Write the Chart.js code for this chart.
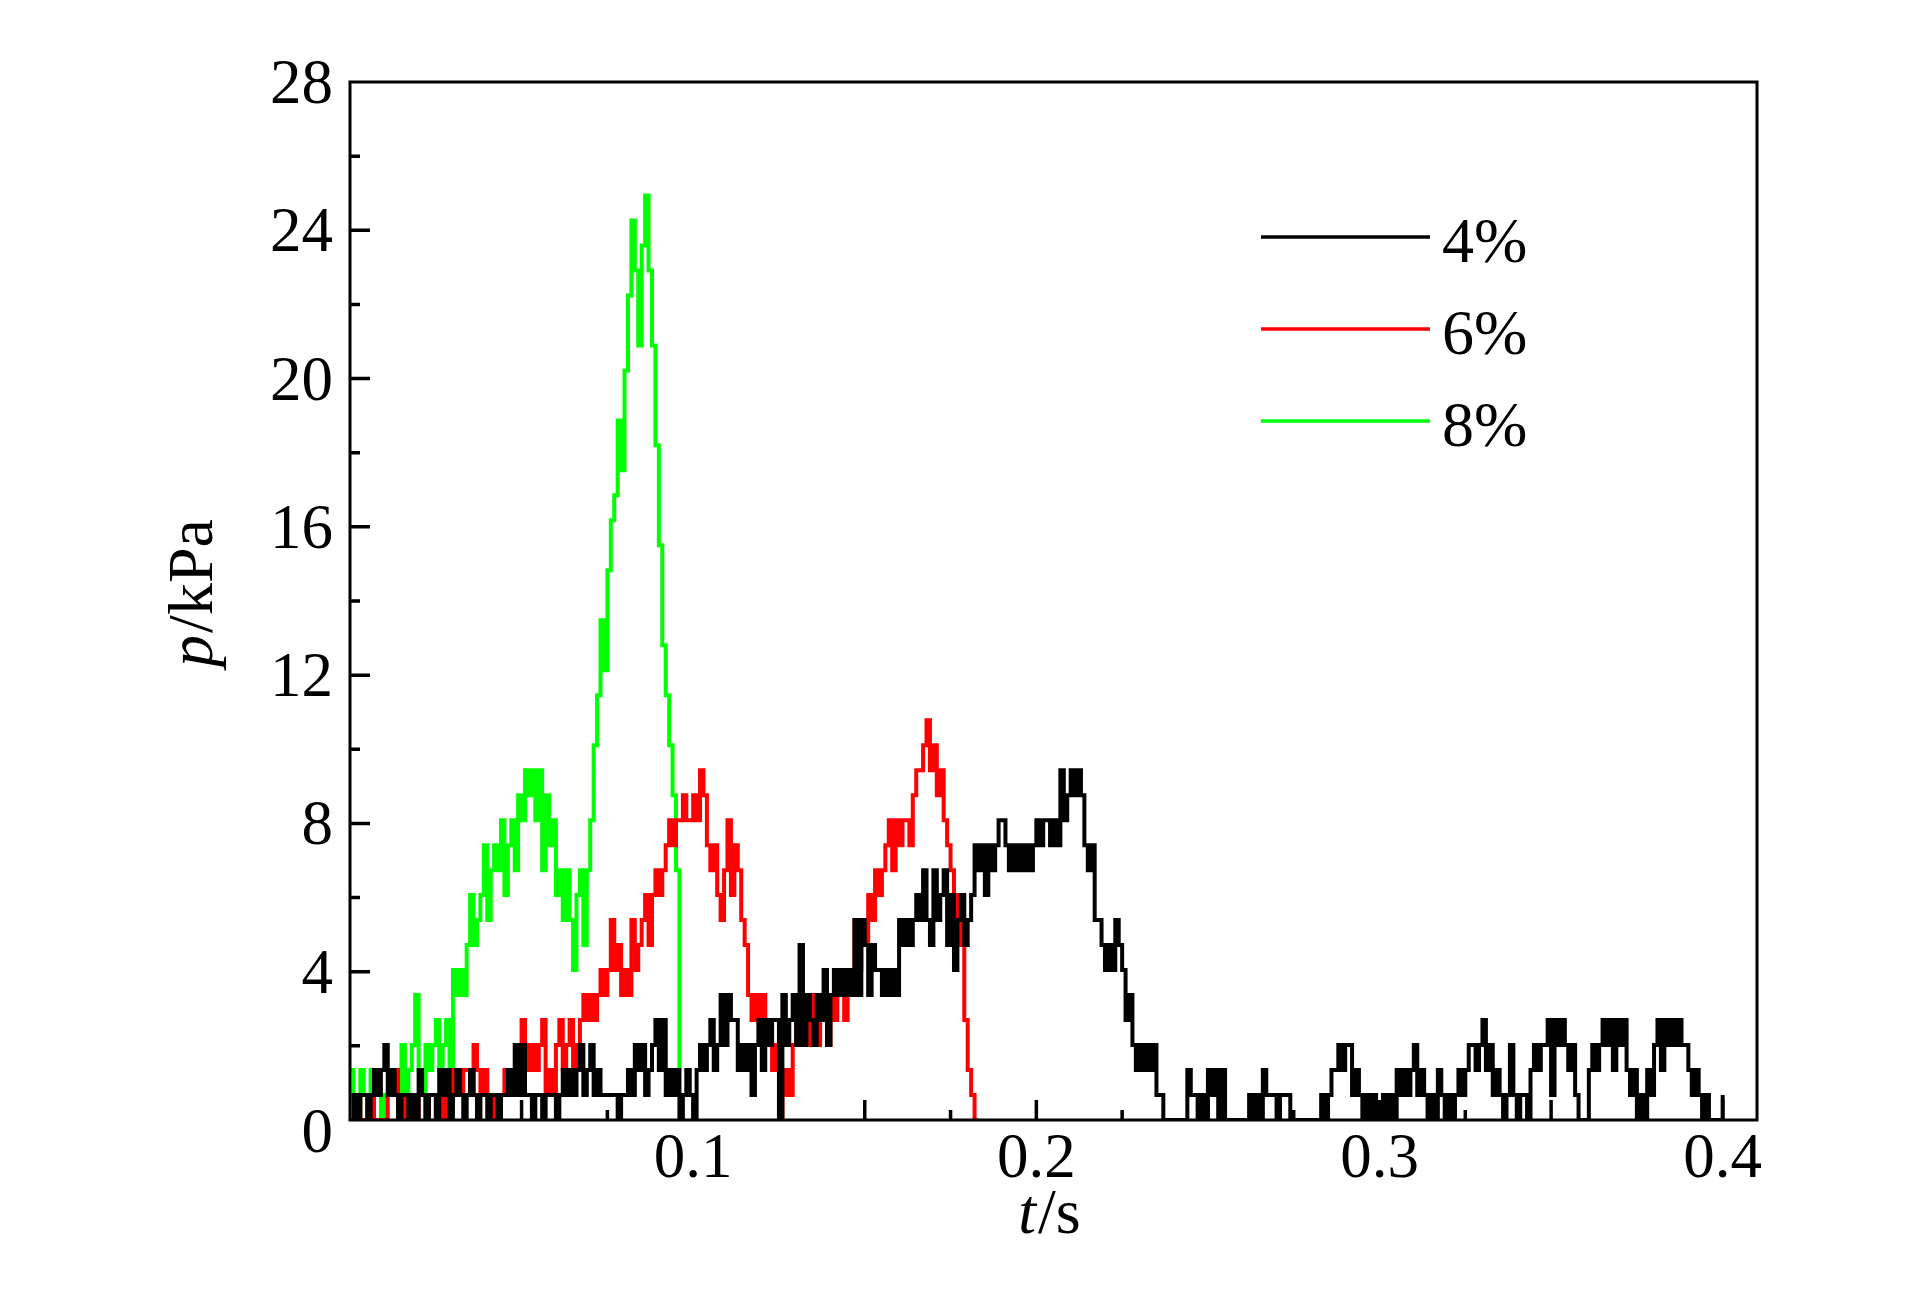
<!DOCTYPE html>
<html>
<head>
<meta charset="utf-8">
<script src="https://cdn.jsdelivr.net/npm/chart.js@4/dist/chart.umd.min.js"></script>
<style>
html, body { margin: 0; padding: 0; background: #fff; }
#wrap { width: 1923px; height: 1299px; }
</style>
</head>
<body>
<div id="wrap"><canvas id="c" width="1923" height="1299"></canvas></div>
<script>
// record sampled every DT seconds, pressure quantised in steps of STEP_KPA
const DT = 0.001
const STEP_KPA = 0.674

const seriesNames = ['4%', '6%', '8%']
const seriesColors = ['#000000', '#ff0000', '#00ff00']

// pressure in ADC steps, one value per DT
const steps4 = [
    0, 1, 0, 1, 1, 0, 1, 2, 1, 2,
    3, 1, 2, 1, 0, 1, 1, 0, 1, 0,
    2, 1, 0, 1, 1, 0, 2, 1, 2, 0,
    1, 2, 1, 0, 1, 2, 1, 0, 1, 1,
    0, 1, 1, 0, 1, 1, 2, 1, 3, 1,
    3, 1, 1, 0, 1, 1, 0, 1, 1, 1,
    0, 1, 2, 1, 2, 1, 2, 3, 1, 2,
    3, 1, 2, 1, 1, 1, 1, 1, 0, 1,
    1, 2, 1, 3, 2, 3, 1, 2, 3, 4,
    2, 4, 1, 2, 1, 2, 0, 1, 2, 1,
    0, 2, 3, 2, 3, 4, 2, 3, 5, 3,
    5, 4, 4, 2, 3, 2, 3, 1, 3, 4,
    2, 4, 3, 4, 4, 0, 5, 3, 4, 5,
    3, 7, 3, 5, 4, 3, 5, 4, 6, 3,
    5, 6, 5, 6, 5, 6, 5, 8, 5, 8,
    7, 5, 7, 6, 6, 5, 6, 5, 6, 5,
    8, 7, 8, 7, 8, 9, 8, 10, 8, 7,
    10, 8, 9, 10, 7, 9, 6, 8, 9, 7,
    8, 9, 11, 10, 11, 9, 11, 10, 11, 12,
    12, 11, 10, 11, 10, 11, 10, 11, 10, 11,
    12, 11, 12, 12, 11, 12, 11, 14, 12, 13,
    14, 13, 14, 13, 11, 10, 11, 8, 8, 7,
    6, 7, 6, 8, 7, 6, 4, 5, 3, 2,
    3, 2, 3, 2, 3, 1, 1, 0, 0, 0,
    0, 0, 0, 0, 2, 1, 1, 0, 1, 0,
    2, 1, 2, 0, 2, 0, 0, 0, 0, 0,
    0, 0, 1, 0, 1, 0, 2, 1, 1, 1,
    0, 1, 1, 1, 0, 0, 0, 0, 0, 0,
    0, 0, 0, 1, 0, 1, 2, 2, 3, 2,
    3, 3, 1, 2, 1, 0, 1, 0, 1, 0,
    0, 1, 0, 1, 0, 2, 1, 2, 1, 2,
    3, 1, 2, 1, 0, 1, 0, 2, 1, 0,
    1, 0, 1, 2, 1, 2, 3, 3, 2, 3,
    4, 2, 3, 1, 2, 1, 0, 1, 3, 1,
    0, 1, 1, 0, 2, 3, 2, 3, 3, 4,
    1, 4, 3, 4, 3, 2, 3, 1, 0, 0,
    0, 2, 3, 2, 3, 4, 3, 4, 2, 4,
    3, 4, 2, 1, 2, 0, 1, 0, 2, 1,
    3, 4, 2, 4, 3, 4, 3, 4, 3, 3,
    2, 1, 2, 1, 0, 1, 0, 0, 0, 0,
    1
]

const steps6 = [
    0, 0, 1, 0, 0, 0, 1, 0, 0, 0,
    0, 1, 2, 2, 1, 0, 1, 0, 1, 0,
    1, 1, 0, 1, 1, 1, 1, 0, 1, 1,
    2, 2, 1, 2, 2, 1, 3, 2, 1, 2,
    1, 0, 1, 0, 1, 2, 1, 2, 2, 3,
    4, 3, 2, 3, 2, 3, 4, 1, 2, 1,
    3, 4, 2, 3, 4, 2, 3, 4, 5, 4,
    5, 4, 5, 6, 5, 6, 8, 6, 7, 5,
    6, 5, 8, 6, 7, 8, 9, 7, 9, 10,
    9, 10, 11, 12, 11, 12, 12, 13, 12, 12,
    13, 12, 14, 13, 11, 10, 11, 9, 8, 10,
    12, 9, 11, 10, 8, 7, 5, 4, 5, 4,
    5, 4, 3, 2, 3, 0, 1, 2, 1, 3,
    4, 3, 4, 3, 4, 5, 3, 4, 5, 3,
    5, 4, 5, 6, 4, 5, 6, 8, 6, 7,
    7, 9, 8, 10, 9, 10, 11, 12, 10, 12,
    11, 12, 12, 11, 13, 14, 14, 15, 16, 14,
    15, 13, 14, 12, 11, 10, 9, 8, 7, 4,
    2, 1, 0, 0
]

const steps8 = [
    2, 1, 0, 2, 1, 1, 2, 1, 1, 0,
    1, 1, 2, 2, 0, 3, 1, 2, 3, 5,
    2, 1, 3, 2, 3, 4, 2, 3, 4, 1,
    6, 5, 6, 5, 7, 9, 7, 8, 9, 11,
    8, 10, 11, 10, 12, 9, 11, 12, 10, 13,
    12, 14, 13, 14, 12, 14, 10, 13, 11, 12,
    9, 10, 8, 10, 8, 6, 9, 10, 7, 10,
    12, 15, 17, 20, 18, 22, 24, 25, 28, 26,
    30, 33, 36, 34, 31, 35, 37, 34, 31, 27,
    23, 19, 17, 15, 13, 10, 2
]

const yTickLabels = [0, 4, 8, 12, 16, 20, 24, 28]
const xTickLabels = [0.1, 0.2, 0.3, 0.4]

const FONT = '"Liberation Serif", "DejaVu Serif", serif'

const toPoints = (steps) => steps.map((n, i) => ({ x: i * DT, y: n * STEP_KPA }))

const axesPlugin = {
    id: 'axes',
    afterDatasetsDraw(chart) {
        const { ctx, chartArea: a, scales } = chart
        const xs = scales.x
        const ys = scales.y
        ctx.save()
        ctx.strokeStyle = '#000'
        ctx.lineCap = 'butt'

        // inward ticks: y every 2 (major every 4), x every 0.025 (major every 0.05)
        ctx.lineWidth = 3.5
        ctx.beginPath()
        for (let i = 1; i < 14; i++) {
            const py = ys.getPixelForValue(i * 2)
            const len = i % 2 === 0 ? 20 : 10
            ctx.moveTo(a.left, py)
            ctx.lineTo(a.left + len, py)
        }
        for (let i = 1; i <= 16; i++) {
            const px = xs.getPixelForValue(i * 0.025)
            const len = i % 2 === 0 ? 20 : 10
            ctx.moveTo(px, a.bottom)
            ctx.lineTo(px, a.bottom - len)
        }
        ctx.stroke()

        ctx.lineWidth = 3
        ctx.strokeRect(a.left, a.top, a.right - a.left, a.bottom - a.top)
        ctx.restore()
    },
    afterDraw(chart) {
        const { ctx, chartArea: a, scales } = chart
        const xs = scales.x
        const ys = scales.y
        ctx.save()
        ctx.fillStyle = '#000'
        ctx.font = '63px ' + FONT

        ctx.textAlign = 'right'
        ctx.textBaseline = 'alphabetic'
        yTickLabels.forEach((v) => {
            const py = ys.getPixelForValue(v) + (v === 0 ? 11 : 0)
            ctx.fillText(String(v), a.left - 17, py + 21)
        })

        ctx.textAlign = 'center'
        xTickLabels.forEach((v) => {
            ctx.fillText(String(v), xs.getPixelForValue(v), a.bottom + 57)
        })

        // x title: t/s
        ctx.font = 'italic 64px ' + FONT
        const w1 = ctx.measureText('t').width
        ctx.font = '64px ' + FONT
        const w2 = ctx.measureText('/s').width
        const cx = (a.left + a.right) / 2 - 5
        ctx.textAlign = 'left'
        ctx.font = 'italic 64px ' + FONT
        ctx.fillText('t', cx - (w1 + w2) / 2, 1233)
        ctx.font = '64px ' + FONT
        ctx.fillText('/s', cx - (w1 + w2) / 2 + w1 + 2, 1233)

        // y title: p/kPa, rotated
        ctx.translate(212, 594)
        ctx.rotate(-Math.PI / 2)
        ctx.font = 'italic 64px ' + FONT
        const p1 = ctx.measureText('p').width
        ctx.font = '64px ' + FONT
        const p2 = ctx.measureText('/kPa').width
        ctx.font = 'italic 64px ' + FONT
        ctx.fillText('p', -(p1 + p2) / 2, 0)
        ctx.font = '64px ' + FONT
        ctx.fillText('/kPa', -(p1 + p2) / 2 + p1 + 2, 0)
        ctx.setTransform(1, 0, 0, 1, 0, 0)

        // legend
        ctx.font = '64px ' + FONT
        ctx.textAlign = 'left'
        seriesNames.forEach((name, i) => {
            const ly = 237 + i * 92
            ctx.strokeStyle = seriesColors[i]
            ctx.lineWidth = 3.5
            ctx.beginPath()
            ctx.moveTo(1261, ly)
            ctx.lineTo(1430, ly)
            ctx.stroke()
            ctx.fillText(name, 1442, ly + 25)
        })
        ctx.restore()
    }
}

new Chart(document.getElementById('c').getContext('2d'), {
    type: 'line',
    data: {
        datasets: [steps4, steps6, steps8].map((s, i) => ({
            label: seriesNames[i],
            data: toPoints(s),
            borderColor: seriesColors[i],
            backgroundColor: seriesColors[i],
            borderWidth: 4,
            pointRadius: 0,
            stepped: true,
            fill: false,
            order: i
        }))
    },
    options: {
        responsive: false,
        animation: false,
        devicePixelRatio: 1,
        layout: { padding: { left: 350, right: 166, top: 82, bottom: 179 } },
        scales: {
            x: { type: 'linear', min: 0, max: 0.41, display: false },
            y: { min: 0, max: 28, display: false }
        },
        plugins: { legend: { display: false }, tooltip: { enabled: false } }
    },
    plugins: [axesPlugin]
})
</script>
</body>
</html>
